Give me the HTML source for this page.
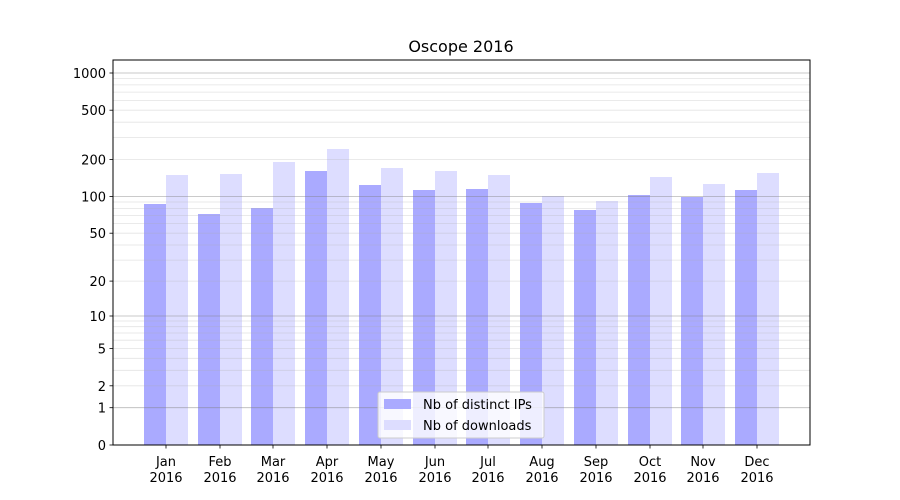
<!DOCTYPE html>
<html><head><meta charset="utf-8"><style>body{margin:0;background:#fff}svg{display:block;font-family:"DejaVu Sans","Liberation Sans",sans-serif}</style></head>
<body>
<svg width="900" height="500" xmlns="http://www.w3.org/2000/svg">
<rect width="900" height="500" fill="#fff"/>
<g fill="#aaaaff">
<rect x="144" y="204" width="22" height="241"/>
<rect x="198" y="214" width="22" height="231"/>
<rect x="251" y="208" width="22" height="237"/>
<rect x="305" y="171" width="22" height="274"/>
<rect x="359" y="185" width="22" height="260"/>
<rect x="413" y="190" width="22" height="255"/>
<rect x="466" y="189" width="22" height="256"/>
<rect x="520" y="203" width="22" height="242"/>
<rect x="574" y="210" width="22" height="235"/>
<rect x="628" y="195" width="22" height="250"/>
<rect x="681" y="197" width="22" height="248"/>
<rect x="735" y="190" width="22" height="255"/>
</g>
<g fill="#ddddff">
<rect x="166" y="175" width="22" height="270"/>
<rect x="220" y="174" width="22" height="271"/>
<rect x="273" y="162" width="22" height="283"/>
<rect x="327" y="149" width="22" height="296"/>
<rect x="381" y="168" width="22" height="277"/>
<rect x="435" y="171" width="22" height="274"/>
<rect x="488" y="175" width="22" height="270"/>
<rect x="542" y="196" width="22" height="249"/>
<rect x="596" y="201" width="22" height="244"/>
<rect x="650" y="177" width="22" height="268"/>
<rect x="703" y="184" width="22" height="261"/>
<rect x="757" y="173" width="22" height="272"/>
</g>
<g stroke="#b0b0b0" stroke-opacity="0.35" stroke-width="0.8">
<line x1="113" x2="810" y1="385.8" y2="385.8"/><line x1="113" x2="810" y1="370.3" y2="370.3"/><line x1="113" x2="810" y1="358.3" y2="358.3"/><line x1="113" x2="810" y1="348.5" y2="348.5"/><line x1="113" x2="810" y1="340.2" y2="340.2"/><line x1="113" x2="810" y1="333" y2="333"/><line x1="113" x2="810" y1="326.7" y2="326.7"/><line x1="113" x2="810" y1="321" y2="321"/>
<line x1="113" x2="810" y1="281.1" y2="281.1"/><line x1="113" x2="810" y1="260.1" y2="260.1"/><line x1="113" x2="810" y1="245" y2="245"/><line x1="113" x2="810" y1="233.2" y2="233.2"/><line x1="113" x2="810" y1="223.6" y2="223.6"/><line x1="113" x2="810" y1="215.4" y2="215.4"/><line x1="113" x2="810" y1="208.4" y2="208.4"/><line x1="113" x2="810" y1="202" y2="202"/>
<line x1="113" x2="810" y1="159.4" y2="159.4"/><line x1="113" x2="810" y1="137.6" y2="137.6"/><line x1="113" x2="810" y1="122.2" y2="122.2"/><line x1="113" x2="810" y1="110.2" y2="110.2"/><line x1="113" x2="810" y1="100.4" y2="100.4"/><line x1="113" x2="810" y1="92.1" y2="92.1"/><line x1="113" x2="810" y1="84.9" y2="84.9"/><line x1="113" x2="810" y1="78.6" y2="78.6"/>
</g>
<g stroke="#808080" stroke-opacity="0.55" stroke-width="0.8">
<line x1="113" x2="810" y1="407.7" y2="407.7"/><line x1="113" x2="810" y1="316" y2="316"/><line x1="113" x2="810" y1="196.5" y2="196.5"/><line x1="113" x2="810" y1="73" y2="73"/>
</g>
<rect x="113" y="60" width="697" height="385" fill="none" stroke="#000" stroke-width="1"/>
<g stroke="#000" stroke-width="0.8">
<line x1="109.5" x2="113" y1="445" y2="445"/><line x1="109.5" x2="113" y1="407.7" y2="407.7"/><line x1="109.5" x2="113" y1="385.8" y2="385.8"/><line x1="109.5" x2="113" y1="348.5" y2="348.5"/><line x1="109.5" x2="113" y1="316" y2="316"/><line x1="109.5" x2="113" y1="281.1" y2="281.1"/><line x1="109.5" x2="113" y1="233.2" y2="233.2"/><line x1="109.5" x2="113" y1="196.5" y2="196.5"/><line x1="109.5" x2="113" y1="159.4" y2="159.4"/><line x1="109.5" x2="113" y1="110.2" y2="110.2"/><line x1="109.5" x2="113" y1="73" y2="73"/>
<line x1="166" x2="166" y1="445" y2="448.5"/><line x1="220" x2="220" y1="445" y2="448.5"/><line x1="273" x2="273" y1="445" y2="448.5"/><line x1="327" x2="327" y1="445" y2="448.5"/><line x1="381" x2="381" y1="445" y2="448.5"/><line x1="435" x2="435" y1="445" y2="448.5"/><line x1="488" x2="488" y1="445" y2="448.5"/><line x1="542" x2="542" y1="445" y2="448.5"/><line x1="596" x2="596" y1="445" y2="448.5"/><line x1="650" x2="650" y1="445" y2="448.5"/><line x1="703" x2="703" y1="445" y2="448.5"/><line x1="757" x2="757" y1="445" y2="448.5"/>
</g>
<g font-size="13" text-anchor="end" fill="#000">
<text x="106" y="450">0</text><text x="106" y="412.7">1</text><text x="106" y="390.8">2</text><text x="106" y="353.5">5</text><text x="106" y="321">10</text><text x="106" y="286.1">20</text><text x="106" y="238.2">50</text><text x="106" y="201.5">100</text><text x="106" y="164.4">200</text><text x="106" y="115.2">500</text><text x="106" y="78">1000</text>
</g>
<g font-size="13" text-anchor="middle" fill="#000">
<text x="166" y="466">Jan</text><text x="166" y="482">2016</text>
<text x="220" y="466">Feb</text><text x="220" y="482">2016</text>
<text x="273" y="466">Mar</text><text x="273" y="482">2016</text>
<text x="327" y="466">Apr</text><text x="327" y="482">2016</text>
<text x="381" y="466">May</text><text x="381" y="482">2016</text>
<text x="435" y="466">Jun</text><text x="435" y="482">2016</text>
<text x="488" y="466">Jul</text><text x="488" y="482">2016</text>
<text x="542" y="466">Aug</text><text x="542" y="482">2016</text>
<text x="596" y="466">Sep</text><text x="596" y="482">2016</text>
<text x="650" y="466">Oct</text><text x="650" y="482">2016</text>
<text x="703" y="466">Nov</text><text x="703" y="482">2016</text>
<text x="757" y="466">Dec</text><text x="757" y="482">2016</text>
<text x="461" y="52" font-size="16">Oscope 2016</text>
</g>
<rect x="378" y="392" width="166" height="46" rx="2" fill="#fff" fill-opacity="0.8" stroke="#ccc" stroke-width="1"/>
<rect x="384" y="399" width="27" height="10" fill="#aaaaff"/>
<rect x="384" y="420" width="27" height="10" fill="#ddddff"/>
<g font-size="13" fill="#000"><text x="423" y="409">Nb of distinct IPs</text><text x="423" y="430">Nb of downloads</text></g>
</svg>
</body></html>
